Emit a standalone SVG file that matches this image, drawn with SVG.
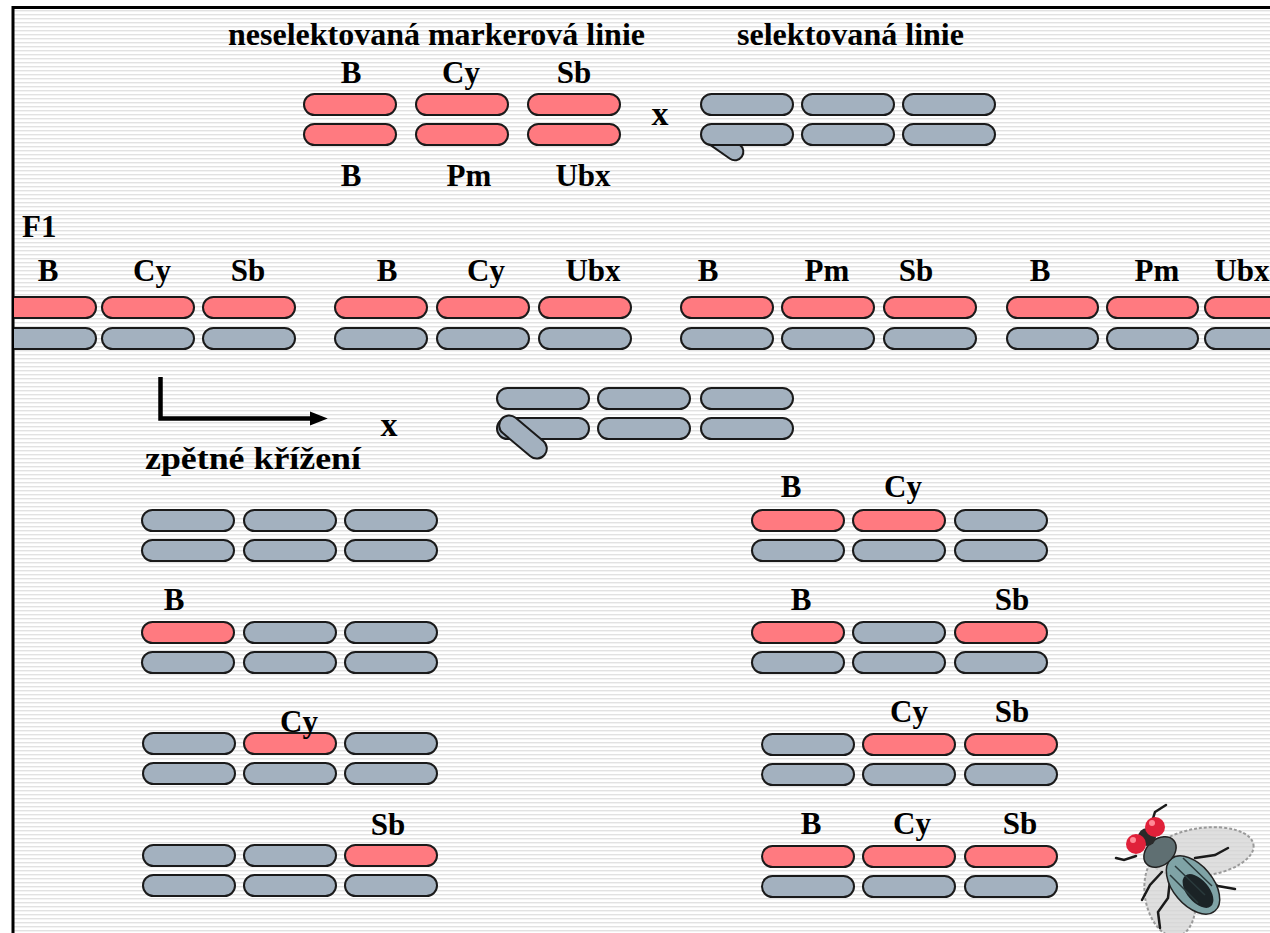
<svg xmlns="http://www.w3.org/2000/svg" width="1270" height="933" viewBox="0 0 1270 933">
  <defs>
    <pattern id="stripes" x="0" y="0" width="8" height="4" patternUnits="userSpaceOnUse">
      <rect x="0" y="0" width="8" height="4" fill="#ffffff"/>
      <rect x="0" y="2" width="8" height="1.4" fill="#e2e2e2"/>
    </pattern>
    <marker id="arrowhead" markerWidth="4" markerHeight="4" refX="0.5" refY="2" orient="auto" markerUnits="strokeWidth">
      <path d="M0,0.4 L4,2 L0,3.6 Z" fill="#000"/>
    </marker>
    <clipPath id="frame">
      <rect x="14" y="9" width="1256" height="924"/>
    </clipPath>
  </defs>
  <style>
    .red { fill: #ff7a80; stroke: #1a1a1a; stroke-width: 2; }
    .gray { fill: #a3b1bf; stroke: #1a1a1a; stroke-width: 2; }
    .lbl { font-family: "Liberation Serif", "Times New Roman", serif; font-weight: bold; font-size: 31px; fill: #000; text-anchor: middle; }
    .title { font-family: "Liberation Serif", "Times New Roman", serif; font-weight: bold; font-size: 31px; fill: #000; }
    .cross { font-family: "Liberation Serif", "Times New Roman", serif; font-weight: bold; font-size: 34px; fill: #000; text-anchor: middle; }
  </style>

  <!-- striped backdrop and frame -->
  <rect x="0" y="0" width="1270" height="933" fill="#ffffff"/>
  <rect x="14" y="9" width="1256" height="924" fill="url(#stripes)"/>
  <path d="M13,933 L13,7.5 L1270,7.5" fill="none" stroke="#000" stroke-width="3"/>

  <!-- parental lines -->
  <g id="marker-line">
    <text class="title" x="228" y="45" textLength="417" lengthAdjust="spacingAndGlyphs">neselektovaná markerová linie</text>
    <text class="lbl" x="351" y="83">B</text>
    <text class="lbl" x="461" y="83">Cy</text>
    <text class="lbl" x="574" y="83">Sb</text>
    <rect class="red" x="304" y="94" width="92" height="21" rx="10.5"/>
    <rect class="red" x="416" y="94" width="92" height="21" rx="10.5"/>
    <rect class="red" x="528" y="94" width="92" height="21" rx="10.5"/>
    <rect class="red" x="304" y="124" width="92" height="21" rx="10.5"/>
    <rect class="red" x="416" y="124" width="92" height="21" rx="10.5"/>
    <rect class="red" x="528" y="124" width="92" height="21" rx="10.5"/>
    <text class="lbl" x="351" y="186">B</text>
    <text class="lbl" x="469" y="186">Pm</text>
    <text class="lbl" x="583" y="186">Ubx</text>
  </g>

  <g id="cross-1">
    <text class="cross" x="660" y="125">x</text>
  </g>

  <g id="selected-line">
    <text class="title" x="737" y="45" textLength="227" lengthAdjust="spacingAndGlyphs">selektovaná linie</text>
    <rect class="gray" x="701" y="94" width="92" height="21" rx="10.5"/>
    <rect class="gray" x="802" y="94" width="92" height="21" rx="10.5"/>
    <rect class="gray" x="903" y="94" width="92" height="21" rx="10.5"/>
    <rect class="gray" x="700" y="135" width="46" height="17" rx="8.5" transform="rotate(35 723 143.5)"/>
    <rect class="gray" x="701" y="124" width="92" height="21" rx="10.5"/>
    <rect class="gray" x="802" y="124" width="92" height="21" rx="10.5"/>
    <rect class="gray" x="903" y="124" width="92" height="21" rx="10.5"/>
  </g>

  <!-- F1 generation -->
  <g id="f1-label">
    <text class="title" x="22" y="237">F1</text>
  </g>

  <g id="f1-genotypes" clip-path="url(#frame)">
    <g id="f1-b-cy-sb">
      <text class="lbl" x="48" y="281">B</text>
      <text class="lbl" x="152" y="281">Cy</text>
      <text class="lbl" x="248" y="281">Sb</text>
      <rect class="red" x="4" y="297" width="92" height="21" rx="10.5"/>
      <rect class="red" x="102" y="297" width="92" height="21" rx="10.5"/>
      <rect class="red" x="203" y="297" width="92" height="21" rx="10.5"/>
      <rect class="gray" x="4" y="328" width="92" height="21" rx="10.5"/>
      <rect class="gray" x="102" y="328" width="92" height="21" rx="10.5"/>
      <rect class="gray" x="203" y="328" width="92" height="21" rx="10.5"/>
    </g>
    <g id="f1-b-cy-ubx">
      <text class="lbl" x="387" y="281">B</text>
      <text class="lbl" x="486" y="281">Cy</text>
      <text class="lbl" x="593" y="281">Ubx</text>
      <rect class="red" x="335" y="297" width="92" height="21" rx="10.5"/>
      <rect class="red" x="437" y="297" width="92" height="21" rx="10.5"/>
      <rect class="red" x="539" y="297" width="92" height="21" rx="10.5"/>
      <rect class="gray" x="335" y="328" width="92" height="21" rx="10.5"/>
      <rect class="gray" x="437" y="328" width="92" height="21" rx="10.5"/>
      <rect class="gray" x="539" y="328" width="92" height="21" rx="10.5"/>
    </g>
    <g id="f1-b-pm-sb">
      <text class="lbl" x="708" y="281">B</text>
      <text class="lbl" x="827" y="281">Pm</text>
      <text class="lbl" x="916" y="281">Sb</text>
      <rect class="red" x="681" y="297" width="92" height="21" rx="10.5"/>
      <rect class="red" x="782" y="297" width="92" height="21" rx="10.5"/>
      <rect class="red" x="884" y="297" width="92" height="21" rx="10.5"/>
      <rect class="gray" x="681" y="328" width="92" height="21" rx="10.5"/>
      <rect class="gray" x="782" y="328" width="92" height="21" rx="10.5"/>
      <rect class="gray" x="884" y="328" width="92" height="21" rx="10.5"/>
    </g>
    <g id="f1-b-pm-ubx">
      <text class="lbl" x="1040" y="281">B</text>
      <text class="lbl" x="1157" y="281">Pm</text>
      <text class="lbl" x="1242" y="281">Ubx</text>
      <rect class="red" x="1007" y="297" width="91" height="21" rx="10.5"/>
      <rect class="red" x="1107" y="297" width="91" height="21" rx="10.5"/>
      <rect class="red" x="1205" y="297" width="91" height="21" rx="10.5"/>
      <rect class="gray" x="1007" y="328" width="91" height="21" rx="10.5"/>
      <rect class="gray" x="1107" y="328" width="91" height="21" rx="10.5"/>
      <rect class="gray" x="1205" y="328" width="91" height="21" rx="10.5"/>
    </g>
  </g>

  <!-- backcross -->
  <g id="connectors">
    <path d="M160.5,377 L160.5,418.5 L312,418.5" fill="none" stroke="#000" stroke-width="4.5" marker-end="url(#arrowhead)"/>
  </g>

  <g id="backcross-label">
    <text class="title" x="145" y="469" textLength="216" lengthAdjust="spacingAndGlyphs">zpětné křížení</text>
  </g>

  <g id="cross-2">
    <text class="cross" x="389" y="436">x</text>
  </g>

  <g id="tester-line">
    <rect class="gray" x="497" y="388" width="92" height="21" rx="10.5"/>
    <rect class="gray" x="598" y="388" width="92" height="21" rx="10.5"/>
    <rect class="gray" x="701" y="388" width="92" height="21" rx="10.5"/>
    <rect class="gray" x="497" y="418" width="92" height="21" rx="10.5"/>
    <rect class="gray" x="598" y="418" width="92" height="21" rx="10.5"/>
    <rect class="gray" x="701" y="418" width="92" height="21" rx="10.5"/>
    <rect class="gray" x="495" y="427" width="56" height="20" rx="10" transform="rotate(40 523 437)"/>
  </g>

  <!-- backcross progeny, left column -->
  <g id="progeny-none">
    <rect class="gray" x="142" y="510" width="92" height="21" rx="10.5"/>
    <rect class="gray" x="244" y="510" width="92" height="21" rx="10.5"/>
    <rect class="gray" x="345" y="510" width="92" height="21" rx="10.5"/>
    <rect class="gray" x="142" y="540" width="92" height="21" rx="10.5"/>
    <rect class="gray" x="244" y="540" width="92" height="21" rx="10.5"/>
    <rect class="gray" x="345" y="540" width="92" height="21" rx="10.5"/>
  </g>

  <g id="progeny-b">
    <text class="lbl" x="174" y="610">B</text>
    <rect class="red" x="142" y="622" width="92" height="21" rx="10.5"/>
    <rect class="gray" x="244" y="622" width="92" height="21" rx="10.5"/>
    <rect class="gray" x="345" y="622" width="92" height="21" rx="10.5"/>
    <rect class="gray" x="142" y="652" width="92" height="21" rx="10.5"/>
    <rect class="gray" x="244" y="652" width="92" height="21" rx="10.5"/>
    <rect class="gray" x="345" y="652" width="92" height="21" rx="10.5"/>
  </g>

  <g id="progeny-cy">
    <rect class="gray" x="143" y="733" width="92" height="21" rx="10.5"/>
    <rect class="red" x="244" y="733" width="92" height="21" rx="10.5"/>
    <rect class="gray" x="345" y="733" width="92" height="21" rx="10.5"/>
    <rect class="gray" x="143" y="763" width="92" height="21" rx="10.5"/>
    <rect class="gray" x="244" y="763" width="92" height="21" rx="10.5"/>
    <rect class="gray" x="345" y="763" width="92" height="21" rx="10.5"/>
    <text class="lbl" x="299" y="732">Cy</text>
  </g>

  <g id="progeny-sb">
    <text class="lbl" x="388" y="835">Sb</text>
    <rect class="gray" x="143" y="845" width="92" height="21" rx="10.5"/>
    <rect class="gray" x="244" y="845" width="92" height="21" rx="10.5"/>
    <rect class="red" x="345" y="845" width="92" height="21" rx="10.5"/>
    <rect class="gray" x="143" y="875" width="92" height="21" rx="10.5"/>
    <rect class="gray" x="244" y="875" width="92" height="21" rx="10.5"/>
    <rect class="gray" x="345" y="875" width="92" height="21" rx="10.5"/>
  </g>

  <!-- backcross progeny, right column -->
  <g id="progeny-b-cy">
    <text class="lbl" x="791" y="497">B</text>
    <text class="lbl" x="903" y="497">Cy</text>
    <rect class="red" x="752" y="510" width="92" height="21" rx="10.5"/>
    <rect class="red" x="853" y="510" width="92" height="21" rx="10.5"/>
    <rect class="gray" x="955" y="510" width="92" height="21" rx="10.5"/>
    <rect class="gray" x="752" y="540" width="92" height="21" rx="10.5"/>
    <rect class="gray" x="853" y="540" width="92" height="21" rx="10.5"/>
    <rect class="gray" x="955" y="540" width="92" height="21" rx="10.5"/>
  </g>

  <g id="progeny-b-sb">
    <text class="lbl" x="801" y="610">B</text>
    <text class="lbl" x="1012" y="610">Sb</text>
    <rect class="red" x="752" y="622" width="92" height="21" rx="10.5"/>
    <rect class="gray" x="853" y="622" width="92" height="21" rx="10.5"/>
    <rect class="red" x="955" y="622" width="92" height="21" rx="10.5"/>
    <rect class="gray" x="752" y="652" width="92" height="21" rx="10.5"/>
    <rect class="gray" x="853" y="652" width="92" height="21" rx="10.5"/>
    <rect class="gray" x="955" y="652" width="92" height="21" rx="10.5"/>
  </g>

  <g id="progeny-cy-sb">
    <text class="lbl" x="909" y="722">Cy</text>
    <text class="lbl" x="1012" y="722">Sb</text>
    <rect class="gray" x="762" y="734" width="92" height="21" rx="10.5"/>
    <rect class="red" x="863" y="734" width="92" height="21" rx="10.5"/>
    <rect class="red" x="965" y="734" width="92" height="21" rx="10.5"/>
    <rect class="gray" x="762" y="764" width="92" height="21" rx="10.5"/>
    <rect class="gray" x="863" y="764" width="92" height="21" rx="10.5"/>
    <rect class="gray" x="965" y="764" width="92" height="21" rx="10.5"/>
  </g>

  <g id="progeny-b-cy-sb">
    <text class="lbl" x="811" y="834">B</text>
    <text class="lbl" x="912" y="834">Cy</text>
    <text class="lbl" x="1020" y="834">Sb</text>
    <rect class="red" x="762" y="846" width="92" height="21" rx="10.5"/>
    <rect class="red" x="863" y="846" width="92" height="21" rx="10.5"/>
    <rect class="red" x="965" y="846" width="92" height="21" rx="10.5"/>
    <rect class="gray" x="762" y="876" width="92" height="21" rx="10.5"/>
    <rect class="gray" x="863" y="876" width="92" height="21" rx="10.5"/>
    <rect class="gray" x="965" y="876" width="92" height="21" rx="10.5"/>
  </g>

  <!-- fruit fly sketch -->
  <g id="fly">
    <ellipse cx="1202" cy="852" rx="52" ry="24" fill="#d4d4d4" fill-opacity="0.75" stroke="#9a9a9a" stroke-width="2" stroke-dasharray="3 2" transform="rotate(-8 1202 852)"/>
    <ellipse cx="1170" cy="895" rx="25" ry="42" fill="#d4d4d4" fill-opacity="0.75" stroke="#9a9a9a" stroke-width="2" stroke-dasharray="3 2" transform="rotate(-10 1170 895)"/>
    <g fill="none" stroke="#1a1a1a" stroke-width="2.5" stroke-linecap="round">
      <path d="M1150,828 L1155,812 L1166,805"/>
      <path d="M1136,856 L1124,860 L1116,858"/>
      <path d="M1180,870 L1198,874 L1218,886 L1235,889"/>
      <path d="M1170,880 L1168,898 L1158,912 L1160,928"/>
      <path d="M1195,858 L1215,855 L1228,848"/>
      <path d="M1162,872 L1150,885 L1142,900"/>
    </g>
    <ellipse cx="1193" cy="885" rx="20" ry="34" fill="#7fa3a6" stroke="#222" stroke-width="1.5" transform="rotate(-40 1193 885)"/>
    <ellipse cx="1198" cy="891" rx="11" ry="20" fill="#1b2326" transform="rotate(-40 1198 891)"/>
    <path d="M1175,866 L1205,895 M1183,858 L1212,886 M1170,875 L1198,903" stroke="#2a3a3c" stroke-width="1.5" fill="none"/>
    <ellipse cx="1160" cy="852" rx="18" ry="13" fill="#5f6f72" stroke="#222" stroke-width="1.5" transform="rotate(-40 1160 852)"/>
    <circle cx="1147" cy="837" r="9" fill="#2a2a2a"/>
    <circle cx="1155" cy="827" r="10" fill="#e0213a"/>
    <circle cx="1136" cy="844" r="10" fill="#e0213a"/>
    <circle cx="1152" cy="823" r="3" fill="#ff8a96"/>
    <circle cx="1133" cy="840" r="3" fill="#ff8a96"/>
  </g>
</svg>
